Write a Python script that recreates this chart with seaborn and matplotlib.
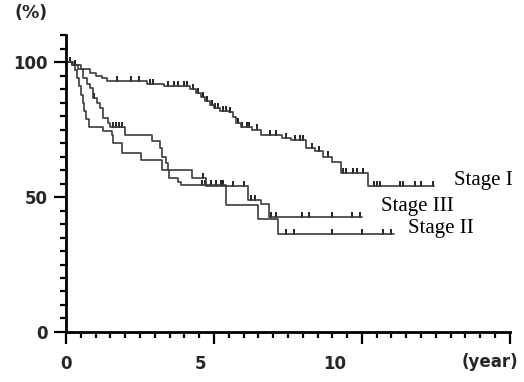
import matplotlib
matplotlib.use('Agg')
import matplotlib.pyplot as plt
import matplotlib.transforms as mtransforms
import seaborn as sns
import pandas as pd
import numpy as np
from matplotlib.ticker import MultipleLocator

# ---- data (step survival curves) ----
stage1_t = [0, 0.25, 0.5, 0.8, 1.0, 1.2, 1.4, 2.75, 3.3, 4.2, 4.4, 4.55, 4.7, 4.85, 5.0,
            5.2, 5.5, 5.65, 5.75, 5.9, 6.3, 6.6, 7.3, 7.6, 8.1, 8.4, 8.7, 9.0, 9.3, 10.2, 12.45]
stage1_s = [100, 99, 97.5, 96, 95, 94, 93, 92, 91, 90, 88.5, 87, 85.5, 84, 83,
            82, 81.5, 79.5, 77.5, 76, 75, 73, 72, 71, 68, 67, 65, 63, 59, 54, 54]
stage1_cens = [1.73, 2.18, 2.45, 2.85, 2.95, 3.45, 3.65, 3.8, 3.98, 4.1, 4.3, 4.45, 4.62,
               4.78, 4.92, 5.05, 5.15, 5.3, 5.4, 5.55, 5.8, 5.95, 6.1, 6.2, 6.45, 6.9, 7.1,
               7.45, 7.75, 7.9, 8.0, 8.3, 8.55, 8.85, 9.35, 9.45, 9.7, 9.85, 10.05, 10.4,
               10.5, 10.6, 11.3, 11.4, 11.8, 12.0, 12.4]

stage2_t = [0, 0.2, 0.3, 0.38, 0.45, 0.5, 0.56, 0.62, 0.68, 0.78, 1.26, 1.56, 1.6, 1.9,
            2.52, 3.26, 3.47, 3.78, 3.88, 5.4, 6.5, 7.17, 11.1]
stage2_s = [100, 99, 97, 94, 91, 88, 85, 82, 79, 76, 74.5, 73, 70, 66.5,
            63.6, 60, 57.2, 55.4, 54.3, 47, 42, 36.2, 36.2]
stage2_cens = [0.12, 4.6, 4.7, 4.9, 5.07, 5.24, 5.3, 7.45, 7.7, 9.0, 10.0, 10.7, 11.0]

stage3_t = [0, 0.2, 0.4, 0.58, 0.7, 0.82, 0.92, 1.05, 1.16, 1.26, 1.43, 1.5, 2.0, 2.91,
            3.16, 3.26, 3.37, 3.43, 4.27, 4.73, 6.15, 6.6, 6.87, 10.0]
stage3_s = [100, 99, 97.5, 94, 92, 90.4, 86.7, 85, 83, 79.3, 77.4, 75.8, 73, 70.6,
            68, 65, 62.7, 60, 57, 54, 49, 47.5, 42.5, 42.5]
stage3_cens = [0.15, 0.3, 0.95, 1.6, 1.7, 1.8, 1.9, 4.63, 5.65, 6.0, 6.25, 6.4, 6.94, 7.1,
               7.96, 8.2, 9.0, 9.66, 9.93]

labels = ["Stage I", "Stage II", "Stage III"]
label_pos = {"Stage I": (13.1, 56.0), "Stage III": (10.65, 46.5), "Stage II": (11.55, 38.3)}

x_ticks = [0, 5, 10]
y_ticks = [0, 50, 100]

# ---- figure ----
sns.set_theme(style="white")
plt.rcParams['font.family'] = ['DejaVu Sans']
fig = plt.figure(figsize=(5.24, 3.82), dpi=100)
ax = fig.add_axes([0.126, 0.131, 0.847, 0.777])

curves = [(stage1_t, stage1_s, stage1_cens),
          (stage2_t, stage2_s, stage2_cens),
          (stage3_t, stage3_s, stage3_cens)]
line_col = '#3c3c3c'

def step_value(ts, ss, x):
    idx = np.searchsorted(np.asarray(ts), x, side='right') - 1
    return np.asarray(ss)[idx]

for (ts, ss, cs), lab in zip(curves, labels):
    df = pd.DataFrame({'t': ts, 's': ss})
    sns.lineplot(data=df, x='t', y='s', drawstyle='steps-post', estimator=None,
                 sort=False, color=line_col, lw=1.2, ax=ax)
    cdf = pd.DataFrame({'t': cs, 's': step_value(ts, ss, cs) + 0.8})
    sns.scatterplot(data=cdf, x='t', y='s', marker='|', s=22, linewidth=1.4,
                    color='#222222', ax=ax)

for lab, (x, y) in label_pos.items():
    ax.text(x, y, lab, fontsize=15, family='Liberation Serif', va='center',
            ha='left', color='black')

ax.set_xlim(0, 15)
ax.set_ylim(0, 110)
ax.set_xticks(x_ticks + [15])
ax.set_xticklabels([str(v) for v in x_ticks] + [''])
ax.set_yticks(y_ticks)
ax.set_yticklabels([str(v) for v in y_ticks])
ax.xaxis.set_minor_locator(MultipleLocator(0.5))
ax.yaxis.set_minor_locator(MultipleLocator(5))
ax.tick_params(axis='both', which='major', direction='out', length=8.5, width=1.6,
               labelsize=12, color='black', bottom=True, left=True)
ax.tick_params(axis='x', which='major', pad=8)
ax.tick_params(axis='y', which='major', pad=5)
ax.tick_params(axis='both', which='minor', direction='out', length=4, width=1.6,
               color='black', bottom=True, left=True)
for lbl in ax.get_xticklabels() + ax.get_yticklabels():
    lbl.set_fontweight('bold')

# the original x labels sit a little left of their ticks
shifts = {'5': -0.13, '10': -0.27}
for lbl in ax.get_xticklabels():
    dx = shifts.get(lbl.get_text(), 0.0)
    if dx:
        lbl.set_transform(lbl.get_transform() +
                          mtransforms.ScaledTranslation(dx, 0, fig.dpi_scale_trans))

ax.set_xlabel('')
ax.set_ylabel('')
for sp in ['top', 'right']:
    ax.spines[sp].set_visible(False)
for sp in ['left', 'bottom']:
    ax.spines[sp].set_color('black')
    ax.spines[sp].set_linewidth(2)

fig.text(15 / 524, 1 - 12.5 / 382, '(%)', fontsize=12.5, fontweight='bold', va='center', ha='left')
fig.text(518 / 524, 1 - 362 / 382, '(year)', fontsize=12, fontweight='bold', va='center', ha='right')

fig.savefig('out.png', dpi=100)
